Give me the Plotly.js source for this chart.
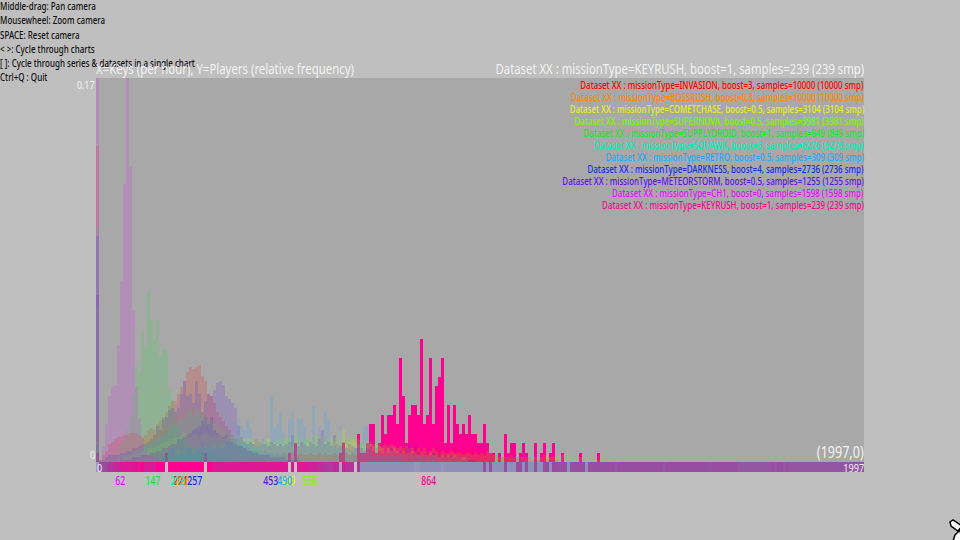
<!DOCTYPE html>
<html><head><meta charset="utf-8">
<script src="https://cdn.plot.ly/plotly-3.0.1.min.js"></script>
<style>html,body{margin:0;padding:0;background:#bfbfbf}#c{width:960px;height:540px}</style>
</head><body><div id="c"></div>
<script>
// Values are relative frequency x 1000, bin by bin from key rate 0 upward.
const invasion=[140,1,3,5,8,9,10,11,11,12,12,13,13,13,12,11,12,14,15,14,17,18,20,22,25,27,27,30,33,36,40,42,41,42,43,38,36,30,29,26,22,20,18,16,14,12,10,8,7,6,6,5,5,5,4,4,5,4,4,3,4,3,4,3,3,4,3,3,4,3,3,4,3,3,4,3,4,3,3,4,3,4,3,4,3,4,3,4,4,3,4,5,4,3,4,5,4,5,4,5,4,5,6,5,4,5,4,6,5,4,5,4,5,6,5,4,5,4,5,6,4,5,4,5,6,4,4,3,4,3,3,3,2,3,2,2,3,2,3,2,2,2,1,2,2,1,2,1,1,2,1,1,1,1];
const bossrush=[20,0,0,0,0,0,0,0,1,2,3,4,5,6,7,9,9,10,11,12,12,14,15,16,17,18,18,20,21,22,23,24,24,23,22,22,21,20,19,18,16,15,14,12,11,10,8,7,6,5,5,4,4,3,3,3,3,2,2,2,2,2,2,1,1,1,1,1,1,1,1];
const cometchase=[10,0,0,0,0,0,0,1,1,2,2,3,3,4,4,5,5,6,6,6,7,8,9,9,10,10,11,11,12,13,12,11,12,12,11,12,13,12,11,12,11,12,10,11,10,11,10,12,11,10,11,10,9,10,9,8,9,10,8,9,8,7,8,9,8,7,9,8,7,8,9,8,9,8,7,8,9,8,7,9,8,14,14,8,9,10,9,8,7,8,9,8,7,6,7,6,5,6,5,6,5,4,5,4,4,5,4,3,4,3,3,4,3,3,2,3,2,3,2,3,2,2,2,2];
const supernova=[69,0,0,0,0,0,0,0,0,0,0,0,1,1,1,1,2,2,2,2,3,3,3,3,4,4,4,5,5,5,6,5,6,6,7,6,7,7,8,8,7,8,9,8,9,8,9,9,10,9,9,10,9,10,9,8,9,10,9,8,10,9,10,11,10,9,10,11,9,10,11,10,9,12,10,11,9,10,11,10,9,8,10,12,10,11,12,10,9,8,10,9,8,9,8,7,8,7,8,7,6,7,6,7,6,6,5,6,5,6,5,5,6,5,4,5,4,4,5,4,4,4,3,4,4,3,4,3,4,3,5,4,3,3,2,3,2,2,3,2,2,2,2,2,2,2,2,2,2,3,3,2,2,2,3,3,3,3,3,2,2,2,2,1,2,1,1,1,2,1,1,1];
const supplydroid=[8,0,0,1,2,3,3,5,8,10,14,20,30,42,39,58,51,76,63,54,63,47,50,50,32,28,20,15,12,11,8,7,6,5,5,4,4,3,3,3,2,2,2,2,1,1,1,1,1];
const squawk=[104,0,0,0,0,1,1,2,2,3,3,4,5,5,6,7,7,8,8,9,10,11,12,13,15,17,16,18,20,19,22,23,21,24,22,21,20,19,18,17,18,16,15,14,13,12,11,10,9,9,8,7,6,6,5,5,5,4,4,4,3,3,3,2,2,2,2,2,1,1,1,1,1];
const retro=[0,0,0,0,0,0,0,0,0,0,0,0,0,0,0,0,0,0,0,0,0,0,3,3,3,6,3,3,6,3,6,6,3,6,6,9,6,9,6,6,9,6,6,9,9,10,10,19,16,14,19,15,8,7,7,10,9,9,29,15,17,22,13,9,19,22,9,19,19,16,10,8,25,9,16,8,22,19,8,7,6,16,6,4,3,5,6,8,9,16,16,4,3,3,3,3,3,3,3,3,3,3,0,3,0,3,0,3,3,0,3,0,3];
const darkness=[100,1,1,2,3,3,3,3,4,4,5,5,6,6,7,8,8,9,10,12,16,14,19,20,23,24,22,24,30,36,29,30,26,36,30,22,27,17,20,14,13,12,11,12,10,9,8,7,7,6,5,5,4,4,3,3,3,3,2,2,2,2,2,1,1,1,1,1];
const meteorstorm=[74,0,0,0,0,0,0,0,1,1,1,1,2,2,2,3,3,3,4,4,5,5,6,6,7,8,8,10,10,11,12,13,14,15,16,18,20,30,29,32,35,36,34,29,28,26,24,16,11,9,8,9,8,10,9,8,8,7,9,8,7,8,7,8,9,12,8,7,9,8,7,9,8,7,10,14,8,9,7,12,8,7,9,6,8,7,6,8,6,5,6,7,5,6,5,4,5,4,6,5,4,5,4,6,8,4,8,5,4,3,5,3,4,3,4,2,3,2,3,2,2,2,1,2,1,1];
const ch1=[186,0,7,17,29,33,34,52,80,123,170,131,67,33,19,10,5,3,3,2,2,1];
const keyrushCounts=[1,0,0,0,0,0,0,0,0,0,0,0,0,0,0,0,0,0,0,0,0,0,0,1,0,0,0,0,0,0,0,0,0,0,0,0,1,0,0,0,0,0,0,0,0,0,0,0,0,0,0,0,0,0,0,0,0,0,0,0,0,0,0,0,1,0,2,0,0,0,0,0,0,0,0,0,0,0,0,0,0,1,2,0,0,0,0,3,1,1,2,4,4,1,2,5,3,5,5,6,4,11,7,2,5,6,6,5,13,4,5,11,4,8,9,11,2,6,2,6,4,3,4,3,5,3,3,2,2,4,2,1,1,0,1,0,3,1,2,2,0,1,2,1,0,0,2,0,1,2,0,1,2,0,0,1,0,0,0,0,0,1,0,0,0,0,0,1];
const keyrushSamples=239;
const maxKeys=1997, binCount=256, maxFreq=0.17;
// Strip level per bin: 0 none, 25 grey-blue, 50 purple, 75 plum, 100 hot pink.
const stripLevels=[20,52,52,58,72,72,80,80,88,88,88,88,88,92,88,100,84,86,90,84,100,100,100,0,100,100,100,100,100,100,100,100,100,100,100,100,0,100,100,88,88,88,88,88,88,88,88,88,88,88,88,88,88,88,88,88,88,88,88,88,88,88,88,88,0,88,0,88,88,88,88,80,84,80,76,76,68,66,68,78,78,15,86,72,72,72,0,72,25,25,25,25,25,25,25,25,25,25,25,25,25,25,25,25,25,25,22,22,25,25,25,25,25,25,25,22,25,25,25,25,25,25,25,25,25,25,25,25,25,52,25,52,25,25,25,25,52,25,25,25,52,52,25,52,25,25,52,25,25,52,52,25,54,54,52,52,52,25,52,52,52,52,52,25,52,52,52,52,52,52,52,52,52,48,52,52,52,52,52,52,54,52,52,52,52,52,52,52,52,48,52,52,52,52,52,52,52,52,52,52,52,52,52,52,48,52,52,52,52,52,52,52,52,52,48,48,48,48,48,48,48,48,48,48,48,52,48,52,52,48,52,48,48,48,48,48,48,48,48,48,48,48,48,48,48,48,48,48,48,48,48,48,48,48,48,48,48,48,48,48];
const names=["INVASION","BOSSRUSH","COMETCHASE","SUPERNOVA","SUPPLYDROID","SQUAWK","RETRO","DARKNESS","METEORSTORM","CH1","KEYRUSH"];
const boosts=["3","0.3","0.5","0.5","1","3","0.5","4","0.5","0","1"];
const samples=[10000,10000,3104,3981,849,6276,309,2736,1255,1598,239];
const medians=[221,226,499,556,147,213,490,257,453,62,864];
const colors=["#ff0000","#ff8800","#e4f01e","#7cf800","#14e82c","#00f0b8","#1ea8ff","#1030e8","#5a14e0","#e010f8","#f00a90"];
const helpLines=["Middle-drag: Pan camera","Mousewheel: Zoom camera","SPACE: Reset camera","< >: Cycle through charts","[ ]: Cycle through series & datasets in a single chart","Ctrl+Q : Quit"];
const FONT='"Noto Sans",sans-serif';
const W=960,H=540;
const binW=maxKeys/binCount;
const dimAlpha=0.16;
function rgba(hex,a){return `rgba(${parseInt(hex.slice(1,3),16)},${parseInt(hex.slice(3,5),16)},${parseInt(hex.slice(5,7),16)},${a})`}
function barTrace(vals,color){return{type:'bar',x:vals.map((_,i)=>(i+.5)*binW),y:vals,width:binW,marker:{color:color,line:{width:0}},cliponaxis:false,hoverinfo:'skip',showlegend:false,xaxis:'x',yaxis:'y'}}
const dim=[invasion,bossrush,cometchase,supernova,supplydroid,squawk,retro,darkness,meteorstorm,ch1].map((a,i)=>barTrace(a.map(v=>v/1000),rgba(colors[i],dimAlpha)));
const key=barTrace(keyrushCounts.map(n=>n/keyrushSamples),'#ff0090');
const strip={type:'heatmap',x:stripLevels.map((_,i)=>(i+.5)*binW),y:[0],z:[stripLevels],zmin:0,zmax:100,zsmooth:false,showscale:false,hoverinfo:'skip',xaxis:'x',yaxis:'y2',
 colorscale:[[0,'#c4c4c4'],[.25,'#8f90b8'],[.5,'#9450a0'],[.75,'#b8309c'],[1,'#ff0090']]};
const ann=[],meta=[];
function txt(x,y,t,size,color,anchor,group,xref,weight){ann.push({xref:xref||'paper',yref:'paper',x:xref?x:x/W,y:1-(y-0.7)/H,text:t,showarrow:false,xanchor:anchor,yanchor:'middle',font:{family:FONT,size:size,color:color,weight:weight||400},borderpad:0,borderwidth:0,captureevents:false});meta.push({anchor,group})}
helpLines.forEach((t,i)=>txt(0,6.5+i*14.2,t.replace(/</g,'&lt;').replace(/>/g,'&gt;'),11,'#101010','left','help',null,500));
txt(96,69,'X=Keys (per hour), Y=Players (relative frequency)',15,'#f2f2f2','left','tl');
txt(864,69,'Dataset XX : missionType=KEYRUSH, boost=1, samples=239 (239 smp)',15,'#f2f2f2','right','tr');
names.forEach((n,i)=>{txt(864,85+i*12,`Dataset XX : missionType=${n}, boost=${boosts[i]}, samples=${samples[i]} (${samples[i]} smp)`,11,colors[i],'right','legend',null,500);
 txt(medians[i],481,String(medians[i]),12.5,colors[i],'center','label','x',500)});
txt(95,85,'0.17',11,'#f0f0f0','right','num');
txt(95,455,'0',11,'#f0f0f0','right','num');
txt(97,468.5,'0',11,'#f0f0f0','left','num');
txt(864,468.5,'1997',11,'#f0f0f0','right','num');
txt(864,453,'(1997,0)',16,'#f2f2f2','right','corner');
const groupWidth={help:195,tl:258,tr:369,legend:302,num:21,label:15,corner:47};
const px=(x,y)=>`${x/W} ${1-y/H}`;
const cursorParts=[[[950,522],[953,520],[962,526],[958,531],[951,526]],[[955,535],[960,530],[962,541],[953,541]]];
const layout={width:W,height:H,margin:{l:0,r:0,t:0,b:0,pad:0},paper_bgcolor:'#bfbfbf',plot_bgcolor:'#a8a8a8',barmode:'overlay',bargap:0,showlegend:false,font:{family:FONT},
 xaxis:{domain:[96/W,864/W],range:[0,maxKeys],showgrid:false,zeroline:false,showticklabels:false,ticks:'',showline:false,fixedrange:true},
 yaxis:{domain:[1-462/H,1-78/H],range:[0,maxFreq],showgrid:false,zeroline:false,showticklabels:false,ticks:'',showline:false,fixedrange:true},
 yaxis2:{domain:[1-472/H,1-462/H],anchor:'x',range:[-.5,.5],showgrid:false,zeroline:false,showticklabels:false,ticks:'',showline:false,fixedrange:true},
 shapes:cursorParts.map(p=>({type:'path',xref:'paper',yref:'paper',path:'M '+p.map(q=>px(q[0],q[1])).join(' L ')+' Z',fillcolor:'#ffffff',line:{color:'#000000',width:1.5}})),
 annotations:ann};
Plotly.newPlot('c',[key,...dim,strip],layout,{displayModeBar:false,staticPlot:true}).then(gd=>{
 const els=[...gd.querySelectorAll('.annotation')].map(g=>({i:+g.getAttribute('data-index'),t:g.querySelector('text.annotation-text')}));
 const maxW={};
 els.forEach(e=>{const m=meta[e.i];maxW[m.group]=Math.max(maxW[m.group]||0,e.t.getBBox().width)});
 els.forEach(e=>{const m=meta[e.i],b=e.t.getBBox(),k=groupWidth[m.group]/maxW[m.group];
  const ax=m.anchor==='right'?b.x+b.width:m.anchor==='left'?b.x:b.x+b.width/2;
  e.t.setAttribute('transform',`translate(${ax} 0) scale(${k} 1) translate(${-ax} 0)`)});
});
</script></body></html>
